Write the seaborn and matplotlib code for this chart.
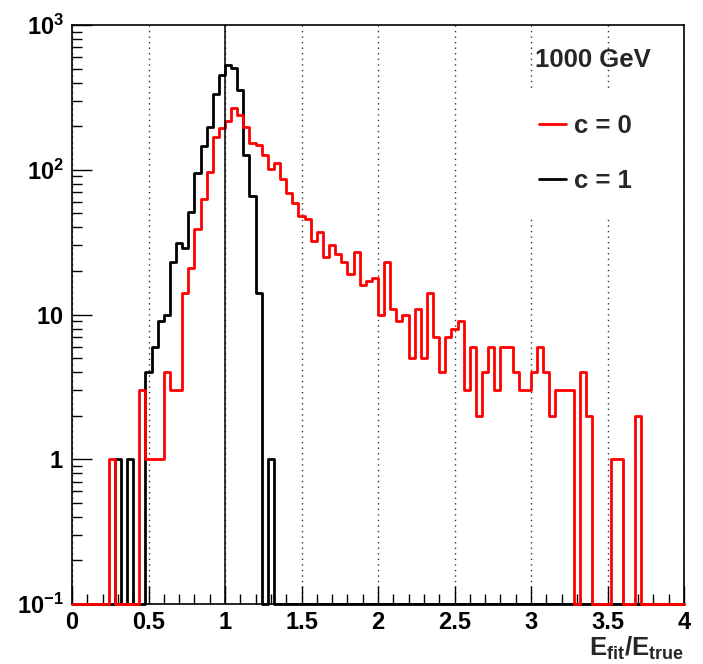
import numpy as np
import pandas as pd
import matplotlib
matplotlib.use("Agg")
import matplotlib.pyplot as plt
from matplotlib.lines import Line2D
from matplotlib.ticker import MultipleLocator, FixedLocator, FixedFormatter, FuncFormatter, LogLocator, NullFormatter
import seaborn as sns

# ---------------- data ----------------
x_min, x_max, n_bins = 0.0, 4.0, 100

counts_c0 = [0, 0, 0, 0, 0, 0, 1, 0, 0, 0,
             0, 3, 1, 1, 1, 4, 3, 3, 14, 21,
             39, 63, 97, 168, 193, 217, 265, 239, 197, 154,
             149, 126, 102, 111, 87, 69, 59, 48, 46, 32,
             37, 25, 30, 26, 23, 19, 27, 16, 17, 18,
             10, 23, 11, 9, 10, 5, 11, 5, 14, 7,
             4, 7, 8, 9, 3, 6, 2, 4, 6, 3,
             6, 6, 4, 3, 3, 4, 6, 4, 2, 3,
             3, 3, 0, 4, 2, 0, 0, 0, 1, 1,
             0, 0, 2, 0, 0, 0, 0, 0, 0, 0]

counts_c1 = [0, 0, 0, 0, 0, 0, 0, 1, 0, 1,
             0, 0, 4, 6, 9, 10, 23, 31, 29, 51,
             95, 146, 197, 332, 455, 533, 508, 356, 126, 66,
             14, 0, 1, 0, 0, 0, 0, 0, 0, 0,
             0, 0, 0, 0, 0, 0, 0, 0, 0, 0,
             0, 0, 0, 0, 0, 0, 0, 0, 0, 0,
             0, 0, 0, 0, 0, 0, 0, 0, 0, 0,
             0, 0, 0, 0, 0, 0, 0, 0, 0, 0,
             0, 0, 0, 0, 0, 0, 0, 0, 0, 0,
             0, 0, 0, 0, 0, 0, 0, 0, 0, 0]

series_labels = ["c = 0", "c = 1"]
series_colors = ["#ff0000", "#000000"]
header_text = "1000 GeV"
x_label = r"$E_{fit}/E_{true}$"
y_min, y_max = 0.1, 1000
y_tick_values = [0.1, 1, 10, 100, 1000]
y_tick_labels = [r"$10^{-1}$", r"$1$", r"$10$", r"$10^{2}$", r"$10^{3}$"]

# ---------------- style ----------------
sns.set_style("ticks")
plt.rcParams["font.family"] = ["Liberation Sans", "DejaVu Sans"]
plt.rcParams["font.weight"] = "bold"
plt.rcParams["mathtext.fontset"] = "custom"
plt.rcParams["mathtext.rm"] = "Liberation Sans:bold"
plt.rcParams["mathtext.bf"] = "Liberation Sans:bold"
plt.rcParams["mathtext.it"] = "Liberation Sans:bold"
plt.rcParams["mathtext.sf"] = "Liberation Sans:bold"
plt.rcParams["mathtext.default"] = "bf"

fig = plt.figure(figsize=(7.03, 6.64), dpi=100)
ax = fig.add_axes([72 / 703, 1 - 604 / 664, 612 / 703, 579 / 664])

bin_edges = np.linspace(x_min, x_max, n_bins + 1)
centers = 0.5 * (bin_edges[:-1] + bin_edges[1:])
df = pd.DataFrame({"x": centers, "c0": counts_c0, "c1": counts_c1})
# zero bins are drawn on the frame floor, as ROOT does
df["c0_draw"] = df["c0"].clip(lower=y_min)
df["c1_draw"] = df["c1"].clip(lower=y_min)

sns.histplot(data=df, x="x", weights="c1_draw", bins=n_bins, binrange=(x_min, x_max),
             element="step", fill=False, color=series_colors[1], linewidth=2.0,
             ax=ax, zorder=3)
sns.histplot(data=df, x="x", weights="c0_draw", bins=n_bins, binrange=(x_min, x_max),
             element="step", fill=False, color=series_colors[0], linewidth=2.0,
             ax=ax, zorder=4)
for ln in ax.lines:
    ln.set_clip_on(False)

ax.set_yscale("log")
ax.set_xlim(x_min, x_max)
ax.set_ylim(y_min, y_max)

# grid & reference line
ax.xaxis.set_major_locator(MultipleLocator(0.5))
ax.xaxis.set_minor_locator(MultipleLocator(0.1))
ax.xaxis.set_major_formatter(FuncFormatter(lambda v, p: f"{v:g}"))
ax.grid(axis="x", which="major", color="#333333", linestyle=(0, (1, 3)), linewidth=1.0)
ax.grid(axis="y", visible=False)
ax.axvline(1.0, color="black", linewidth=1.1, zorder=5)

ax.yaxis.set_major_locator(FixedLocator(y_tick_values))
ax.yaxis.set_major_formatter(FixedFormatter(y_tick_labels))
ax.yaxis.set_minor_locator(LogLocator(base=10, subs=np.arange(2, 10)))
ax.yaxis.set_minor_formatter(NullFormatter())

ax.tick_params(axis="both", which="both", direction="in", top=False, right=False,
               colors="black", width=1.0)
ax.tick_params(axis="x", which="major", length=13, labelsize=17, pad=5)
ax.tick_params(axis="x", which="minor", length=7)
ax.tick_params(axis="y", which="major", length=14.5, labelsize=17, pad=6)
ax.tick_params(axis="y", which="minor", length=7)

for sp in ax.spines.values():
    sp.set_visible(True)
    sp.set_color("black")
    sp.set_linewidth(1.2)

ax.set_ylabel("")
ax.set_xlabel(x_label, fontsize=18.5, ha="right", va="top")
ax.xaxis.set_label_coords(1.0, -0.054)

# header and legend
ax.text((535 - 72) / 612, (604 - 60) / 579, header_text, transform=ax.transAxes,
        fontsize=18.5, fontweight="bold", ha="left", va="center", zorder=6)
handles = [Line2D([], [], color=series_colors[0], linewidth=2.0),
           Line2D([], [], color=series_colors[1], linewidth=2.0)]
leg = ax.legend(handles, series_labels, loc="upper left",
                bbox_to_anchor=((517 - 72) / 612, (604 - 92) / 579),
                borderaxespad=0, frameon=True, fancybox=False, framealpha=1,
                facecolor="white", edgecolor="white",
                prop={"size": 18.5, "weight": "bold"},
                handlelength=1.05, handletextpad=0.3, labelspacing=1.2,
                borderpad=0.85)
leg.set_zorder(6)

fig.savefig("out.png", dpi=100)
